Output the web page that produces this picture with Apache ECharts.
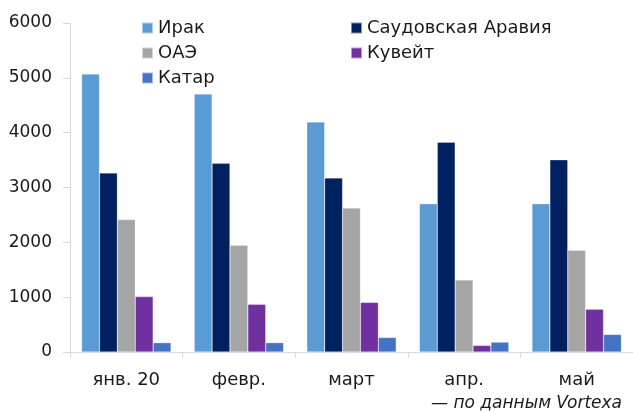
<!DOCTYPE html>
<html><head><meta charset="utf-8">
<script src="https://cdn.jsdelivr.net/npm/echarts@6/dist/echarts.min.js"></script>
<style>html,body{margin:0;padding:0;background:#fff}#c{width:633px;height:412px}</style>
</head><body><div id="c"></div>
<script>
const categories = ['янв. 20', 'февр.', 'март', 'апр.', 'май'];
const seriesNames = ['Ирак', 'Саудовская Аравия', 'ОАЭ', 'Кувейт', 'Катар'];
const iraq   = [5070, 4705, 4195, 2705, 2705];
const saudi  = [3265, 3440, 3175, 3825, 3505];
const uae    = [2415, 1945, 2625, 1315, 1855];
const kuwait = [1010, 870, 905, 120, 780];
const qatar  = [170, 170, 265, 180, 320];
const yTicks = [0, 1000, 2000, 3000, 4000, 5000, 6000];
const sourceNote = '— по данным Vortexa';

const colors = ['#5B9BD5', '#002060', '#A5A5A5', '#7030A0', '#4472C4'];
const values = [iraq, saudi, uae, kuwait, qatar];
const font = 'DejaVu Sans';
const txt = '#1a1a1a';

const chart = echarts.init(document.getElementById('c'));
chart.setOption({
  animation: false,
  color: colors,
  textStyle: {fontFamily: font},
  grid: {left: 70, top: 23, width: 566, height: 329},
  legend: [
    {data: [seriesNames[0], seriesNames[2], seriesNames[4]], orient: 'vertical', left: 136, top: 14,
     itemWidth: 11, itemHeight: 11, itemGap: 7, textStyle: {fontSize: 18, color: txt, fontFamily: font}, icon: 'rect'},
    {data: [seriesNames[1], seriesNames[3]], orient: 'vertical', left: 345, top: 14,
     itemWidth: 11, itemHeight: 11, itemGap: 7, textStyle: {fontSize: 18, color: txt, fontFamily: font}, icon: 'rect'}
  ],
  xAxis: {
    type: 'category', data: categories,
    axisLine: {lineStyle: {color: '#D9D9D9'}},
    axisTick: {show: true, length: 6, lineStyle: {color: '#D9D9D9'}},
    axisLabel: {fontSize: 18, color: txt, margin: 19, fontFamily: font}
  },
  yAxis: {
    type: 'value', min: yTicks[0], max: yTicks[yTicks.length - 1], interval: 1000,
    axisLine: {show: true, lineStyle: {color: '#D9D9D9'}},
    axisTick: {show: true, length: 7, lineStyle: {color: '#D9D9D9'}},
    splitLine: {show: false},
    axisLabel: {fontSize: 17, color: txt, margin: 18, fontFamily: font, formatter: v => String(v)}
  },
  series: seriesNames.map((n, i) => ({
    name: n, type: 'bar', data: values[i], barGap: '0%', barCategoryGap: '20.6%',
    itemStyle: {color: colors[i], borderColor: 'rgba(255,255,255,0.5)', borderWidth: 0.5}
  })),
  graphic: [{
    type: 'text', right: 11, top: 395,
    style: {text: sourceNote, font: 'italic 17px "DejaVu Sans"', fill: txt}
  }]
});
</script></body></html>
